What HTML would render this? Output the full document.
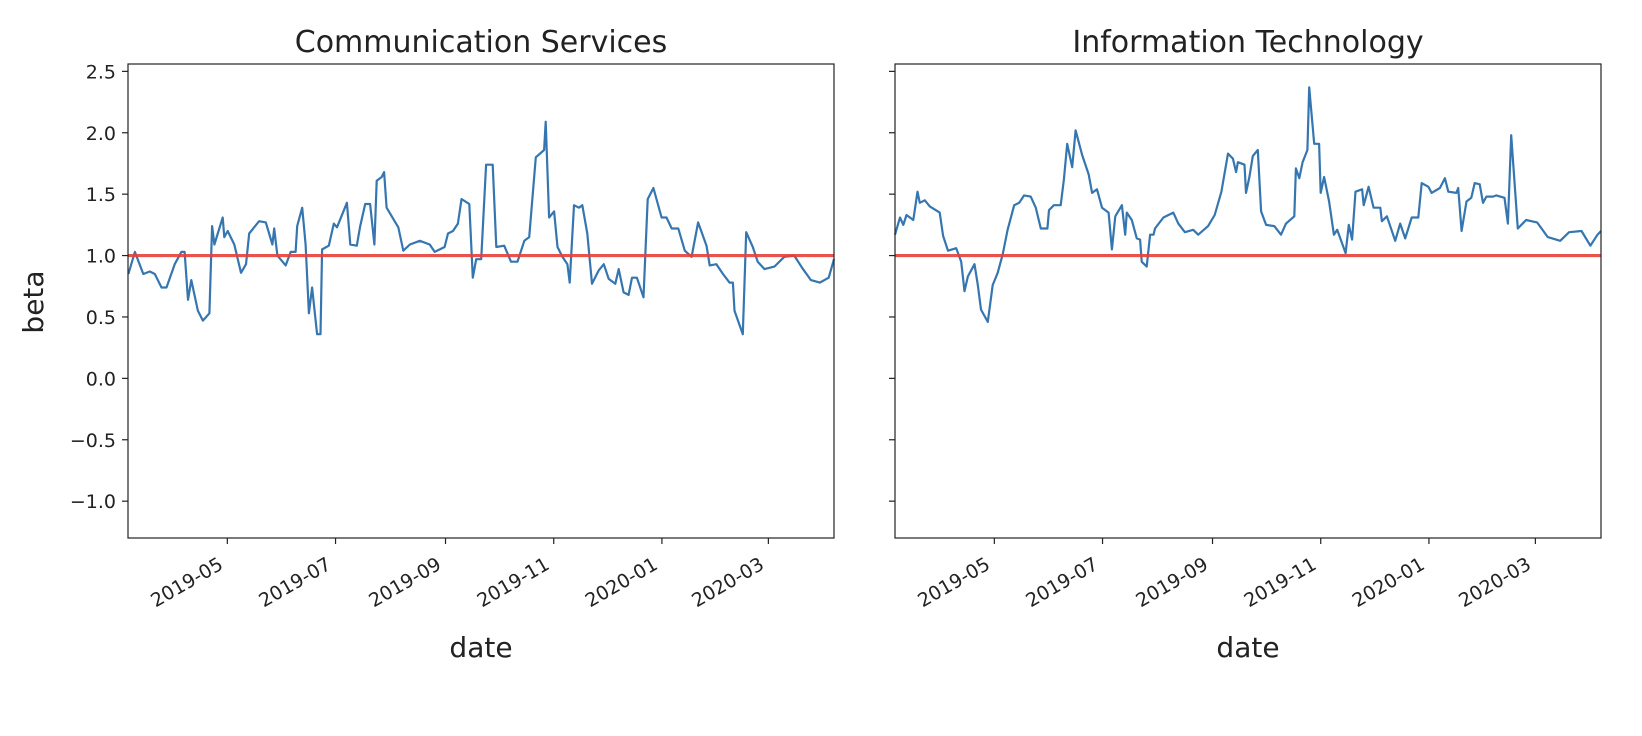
<!DOCTYPE html>
<html><head><meta charset="utf-8"><style>
html,body{margin:0;padding:0;background:#fff;width:1642px;height:736px;overflow:hidden}
svg{display:block;font-family:"DejaVu Sans","Liberation Sans",sans-serif}
</style></head><body>
<svg id="fig" width="1642" height="736" viewBox="0 0 1642 736" xmlns="http://www.w3.org/2000/svg"></svg>
<script>
// day offsets from 2019-03-06 and beta values
const commDays = [0.2,3.9,8.6,12.3,15.1,18.9,21.7,26.3,30.1,31.9,33.8,35.7,39.4,42.2,45.9,47.4,48.7,53.4,54.3,56.2,59.9,63.7,66.5,68.3,73.9,77.7,81.4,82.4,84.2,88.9,91.7,94.5,95.4,98.2,100.1,102,103.8,106.6,108.5,109.4,113.2,116,117.8,123.4,125.3,129,130.9,133.7,136.5,138.9,140.2,143,144.4,145.8,152.4,155.2,158.9,164.5,170.1,172.9,178.5,180.4,183.2,186,188,192.4,194.4,196.3,199.1,201.9,205.6,207.6,212.1,215.9,219.6,223.4,226.2,229.9,234.6,235.5,237.4,240.2,242.1,244.9,247.7,249,251.4,254.2,256.1,258.9,261.6,265.4,268.2,271,274.7,276.6,279.4,282.2,284.1,286.9,290.6,293,296.2,300.8,303.6,306.5,310.2,313.9,317.7,321.4,326.1,327.9,331.7,335.4,339.1,341,341.9,346.6,348.5,352.2,355,358.8,364.4,370,375.6,380,385,390,395,398];
const commBeta = [0.85,1.03,0.85,0.87,0.85,0.74,0.74,0.93,1.03,1.03,0.64,0.8,0.55,0.47,0.53,1.24,1.09,1.31,1.15,1.2,1.09,0.86,0.93,1.18,1.28,1.27,1.09,1.22,1.0,0.92,1.03,1.03,1.24,1.39,1.09,0.53,0.74,0.36,0.36,1.05,1.08,1.26,1.23,1.43,1.09,1.08,1.24,1.42,1.42,1.09,1.61,1.64,1.68,1.39,1.23,1.04,1.09,1.12,1.09,1.03,1.07,1.18,1.2,1.26,1.46,1.42,0.82,0.97,0.97,1.74,1.74,1.07,1.08,0.95,0.95,1.12,1.15,1.8,1.86,2.09,1.31,1.36,1.07,0.99,0.93,0.78,1.41,1.39,1.41,1.18,0.77,0.88,0.93,0.81,0.77,0.89,0.7,0.68,0.82,0.82,0.66,1.46,1.55,1.31,1.31,1.22,1.22,1.04,0.99,1.27,1.08,0.92,0.93,0.85,0.78,0.78,0.55,0.36,1.19,1.07,0.95,0.89,0.91,0.99,1.0,0.9,0.8,0.78,0.82,0.97];
const itDays = [0,2.8,4.7,6.5,10.3,12.7,14,16.8,19.6,25.2,27.1,29.9,34.5,37.3,39.2,41.1,44.8,46.7,48.5,52.3,55.1,57.9,60.7,63.5,67.2,70,72.8,76.5,79.4,82.2,85.9,86.8,89.6,93.4,95.2,97.1,99.9,101.8,105.5,109.2,111.1,113.9,116.7,120.4,122.3,124.2,127.9,129.8,130.7,133.5,136.3,138.2,139.1,141.9,143.8,145.7,146.6,151.3,156.9,159.7,163.4,168.1,170.9,176.5,180.2,184,187.7,190.5,192.3,193.3,197,197.9,199.8,201.7,204.5,206.4,209.2,213.8,217.6,220.4,225.1,226,227.9,229.8,232.5,233.5,236.3,239.1,240,241.9,244.7,247.4,249.3,254,255.8,257.7,259.6,263.3,264.2,267,269.8,273.6,274.5,277.3,282,284.8,287.6,291.3,295,296.9,300.7,302.5,307.2,310,311.9,316.5,317.5,319.4,322.2,324.9,326.8,329.6,331.5,333.4,337.1,339,343.6,345.5,347.4,351.1,355.8,362,368,375,380,387,392,396,398];
const itBeta = [1.17,1.31,1.25,1.33,1.29,1.52,1.43,1.45,1.4,1.35,1.16,1.04,1.06,0.95,0.71,0.83,0.93,0.76,0.56,0.46,0.76,0.86,1.01,1.21,1.41,1.43,1.49,1.48,1.39,1.22,1.22,1.37,1.41,1.41,1.62,1.91,1.72,2.02,1.82,1.66,1.51,1.54,1.39,1.35,1.05,1.32,1.41,1.17,1.35,1.29,1.14,1.13,0.95,0.91,1.17,1.17,1.22,1.31,1.35,1.26,1.19,1.21,1.17,1.24,1.33,1.52,1.83,1.79,1.68,1.76,1.74,1.51,1.64,1.81,1.86,1.36,1.25,1.24,1.17,1.26,1.32,1.71,1.63,1.76,1.86,2.37,1.91,1.91,1.51,1.64,1.44,1.17,1.21,1.02,1.25,1.13,1.52,1.54,1.41,1.56,1.39,1.39,1.28,1.32,1.12,1.26,1.14,1.31,1.31,1.59,1.56,1.51,1.55,1.63,1.52,1.51,1.55,1.2,1.44,1.47,1.59,1.58,1.43,1.48,1.48,1.49,1.47,1.26,1.98,1.22,1.29,1.27,1.15,1.12,1.19,1.2,1.08,1.17,1.2];
const yTicks = [2.5,2.0,1.5,1.0,0.5,0.0,-0.5,-1.0];
const xTickDays = [56,117,179,240,301,361];
const xTickLabels = ["2019-05","2019-07","2019-09","2019-11","2020-01","2020-03"];
const titles = ["Communication Services","Information Technology"];

const NS="http://www.w3.org/2000/svg";
const fig=document.getElementById('fig');
function mk(tag,attrs,parent,text){const e=document.createElementNS(NS,tag);for(const k in attrs)e.setAttribute(k,attrs[k]);if(text!==undefined)e.textContent=text;(parent||fig).appendChild(e);return e;}
const plotTop=64,plotBot=538,W=706,xMin=0,xMax=398,yMin=-1.3,yMax=2.56;
const ys=v=>plotBot-(v-yMin)/(yMax-yMin)*(plotBot-plotTop);
const lefts=[128,895];
const series=[[commDays,commBeta],[itDays,itBeta]];
lefts.forEach((L,i)=>{
  const xs=d=>L+(d-xMin)/(xMax-xMin)*W;
  const g=mk('g',{});
  
  
  const t=mk('text',{x:L+W/2,y:52,'text-anchor':'middle','font-size':'30',fill:'#222'},g,titles[i]);
  
  
  const [dd,vv]=series[i];
  const pts=dd.map((d,k)=>xs(d).toFixed(1)+','+ys(vv[k]).toFixed(1)).join(' ');
  const pl=mk('polyline',{points:pts,fill:'none',stroke:'#3676b0','stroke-width':'2.2','stroke-linejoin':'round'},g);
  
  
  const ref=mk('line',{x1:L,x2:L+W,y1:ys(1),y2:ys(1),stroke:'#e8403a','stroke-width':'3.2','stroke-opacity':'0.9'},g);
  
  
  const fr=mk('rect',{x:L,y:plotTop,width:W,height:plotBot-plotTop,fill:'none',stroke:'#222','stroke-width':'1.2'},g);
  
  
  yTicks.forEach(v=>{
    mk('line',{x1:L-6,x2:L,y1:ys(v),y2:ys(v),stroke:'#222','stroke-width':'1.2'},g);
    if(i===0){
      const tl=mk('text',{x:L-12,y:ys(v)+7,'text-anchor':'end','font-size':'19',fill:'#222'},g,(v<0?'\u2212':'')+Math.abs(v).toFixed(1));
      
      
    }
  });
  xTickDays.forEach((d,k)=>{
    const x=xs(d);
    mk('line',{x1:x,x2:x,y1:plotBot,y2:plotBot+6,stroke:'#222','stroke-width':'1.2'},g);
    const ax=x-3, ay=plotBot+30;
    const tl=mk('text',{x:ax,y:ay,'text-anchor':'end','font-size':'19',fill:'#222',transform:`rotate(-30 ${ax} ${ay})`},g,xTickLabels[k]);
    
    
  });
  const xl=mk('text',{x:L+W/2,y:657,'text-anchor':'middle','font-size':'28',fill:'#222'},g,'date');
  
  
});
const yl=mk('text',{x:0,y:0,'text-anchor':'middle','font-size':'28',fill:'#222',transform:'translate(43 302) rotate(-90)'},fig,'beta');


</script>
</body></html>
